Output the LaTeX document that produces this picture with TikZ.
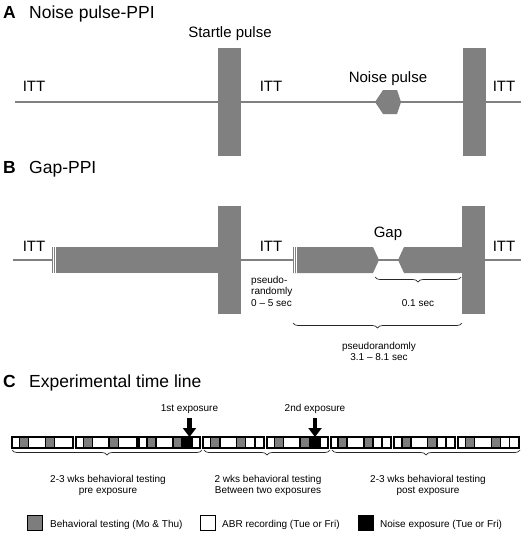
\documentclass[tikz,border=0pt]{standalone}
\usepackage{fontspec}
\setmainfont{Liberation Sans}
\usetikzlibrary{arrows.meta,decorations.pathreplacing}

\definecolor{pulsegray}{RGB}{128,128,128}
\definecolor{testgray}{RGB}{125,125,125}

\tikzset{
  panel/.style={anchor=base west,inner sep=0pt,font=\fontsize{17.5}{20}\selectfont\bfseries},
  title/.style={anchor=base west,inner sep=0pt,font=\fontsize{17.5}{20}\selectfont},
  lab/.style={anchor=base,inner sep=0pt,font=\fontsize{15}{18}\selectfont},
  note/.style={inner sep=0pt,font=\fontsize{10}{11.5}\selectfont},
  trace/.style={pulsegray,line width=2.2pt},
  pulse/.style={fill=pulsegray},
  brc/.style={decorate,decoration={brace,mirror,amplitude=5pt},line width=0.7pt,black!85},
  day/.style={draw=black,line width=1.5pt},
  week/.style={draw=black,line width=2pt},
  expo/.style={-{Triangle[width=13pt,length=9pt]},line width=4.5pt},
  key/.style={draw=black,line width=1.8pt,minimum size=15pt,inner sep=0pt}
}

\begin{document}
\begin{tikzpicture}[x=1pt,y=-1pt]
\useasboundingbox (0,0) rectangle (530,538);

% A: noise pulse PPI
\draw (3,18) node[panel] (pa) {A};
\draw (29,18) node[title] (ta) {Noise pulse-PPI};
\draw[trace] (15,102) -- (521,102);
\fill[pulse] (218,48) rectangle (241,156);
\fill[pulse] (463,48) rectangle (486,156);
\fill[pulse] (375,102) -- (383,90) -- (397,90) -- (401,102) -- (397,114) -- (383,114) -- cycle;
\draw (230,37) node[lab] (startle) {Startle pulse};
\draw (388,82) node[lab] (noise) {Noise pulse};
\draw (34,91) node[lab] (itta1) {ITT};
\draw (271,91) node[lab] (itta2) {ITT};
\draw (504,91) node[lab] (itta3) {ITT};

% B: gap PPI
\draw (3,173) node[panel] (pb) {B};
\draw (29,173) node[title] (tb) {Gap-PPI};
\draw[trace] (13,260) -- (521,260);
\fill[pulse] (52,247) rectangle (218,273);
\fill[pulse] (293,247) -- (373,247) -- (379,260) -- (373,273) -- (293,273) -- cycle;
\fill[pulse] (398,260) -- (404,247) -- (462,247) -- (462,273) -- (404,273) -- cycle;
\draw[white,line width=0.5pt] (53.5,247) -- (53.5,273);
\draw[white,line width=0.5pt] (55.5,247) -- (55.5,273);
\draw[white,line width=0.5pt] (294.5,247) -- (294.5,273);
\draw[white,line width=0.5pt] (296.5,247) -- (296.5,273);
\fill[pulse] (218,206) rectangle (241,314);
\fill[pulse] (462,206) rectangle (485,314);
\draw (34,251) node[lab] (ittb1) {ITT};
\draw (271,251) node[lab] (ittb2) {ITT};
\draw (504,251) node[lab] (ittb3) {ITT};
\draw (388,237) node[lab] (gap) {Gap};
\draw (251,276) node[note,anchor=north west,align=left] (isi) {pseudo-\\randomly\\0 -- 5 sec};

\coordinate (gapl) at (375,277);
\coordinate (gapr) at (461,277);
\draw[brc] (gapl) -- (gapr);
\draw (418,299.5) node[note,anchor=north] (gapt) {0.1 sec};
\coordinate (trl) at (293,323);
\coordinate (trr) at (462,323);
\draw[brc] (trl) -- (trr);
\draw (379,342) node[note,anchor=north,align=center] (trt) {pseudorandomly\\3.1 -- 8.1 sec};

% C: time line
\draw (3,387) node[panel] (pc) {C};
\draw (29,387) node[title] (tc) {Experimental time line};

% weeks
\foreach \i in {0,1}
  \foreach \a/\b/\c in {0/1/white,1/2.2/testgray,2.2/4.4/white,4.4/5.6/testgray,5.6/8/white}
    \draw[day,fill=\c] ({12+63.7*\i+7.6*\a},437) rectangle ({12+63.7*\i+7.6*\b},448);
\foreach \i in {2,4}
  \foreach \a/\b/\c in {0/1/white,1/2.2/testgray,2.2/4.4/white,4.4/5.6/testgray,5.6/7/black,7/8/white}
    \draw[day,fill=\c] ({12+63.7*\i+7.6*\a},437) rectangle ({12+63.7*\i+7.6*\b},448);
\foreach \i in {3,5,6,7}
  \foreach \a/\b/\c in {0/1/white,1/2.2/testgray,2.2/4.4/white,4.4/5.6/testgray,5.6/6.8/white,6.8/8/white}
    \draw[day,fill=\c] ({12+63.7*\i+7.6*\a},437) rectangle ({12+63.7*\i+7.6*\b},448);
\foreach \i in {0,...,7}
  \draw[week] ({12+63.7*\i},437) rectangle ({12+63.7*\i+60.8},448);

% exposures
\draw (189.5,411) node[note,anchor=base] (first) {1st exposure};
\coordinate (firsttop) at (189.5,418);
\coordinate (firsttip) at (189.5,437);
\draw[expo] (firsttop) -- (firsttip);
\draw (315,411) node[note,anchor=base] (second) {2nd exposure};
\coordinate (secondtop) at (315,418);
\coordinate (secondtip) at (315,437);
\draw[expo] (secondtop) -- (secondtip);

% phases
\coordinate (prel) at (12,450);
\coordinate (prer) at (202,450);
\coordinate (midl) at (204,450);
\coordinate (midr) at (330,450);
\coordinate (postl) at (332,450);
\coordinate (postr) at (520,450);
\draw[brc] (prel) -- (prer);
\draw[brc] (midl) -- (midr);
\draw[brc] (postl) -- (postr);
\draw (108,475) node[note,anchor=north,align=center] (pre) {2-3 wks behavioral testing\\pre exposure};
\draw (268,475) node[note,anchor=north,align=center] (mid) {2 wks behavioral testing\\Between two exposures};
\draw (428,475) node[note,anchor=north,align=center] (post) {2-3 wks behavioral testing\\post exposure};

% legend
\draw (35,523) node[key,fill=testgray] (kbeh) {};
\draw (50,527) node[note,anchor=base west] (tbeh) {Behavioral testing (Mo \& Thu)};
\draw (208,523) node[key,fill=white] (kabr) {};
\draw (222,527) node[note,anchor=base west] (tabr) {ABR recording (Tue or Fri)};
\draw (366,523) node[key,fill=black] (kexp) {};
\draw (380,527) node[note,anchor=base west] (texp) {Noise exposure (Tue or Fri)};
\end{tikzpicture}
\end{document}
